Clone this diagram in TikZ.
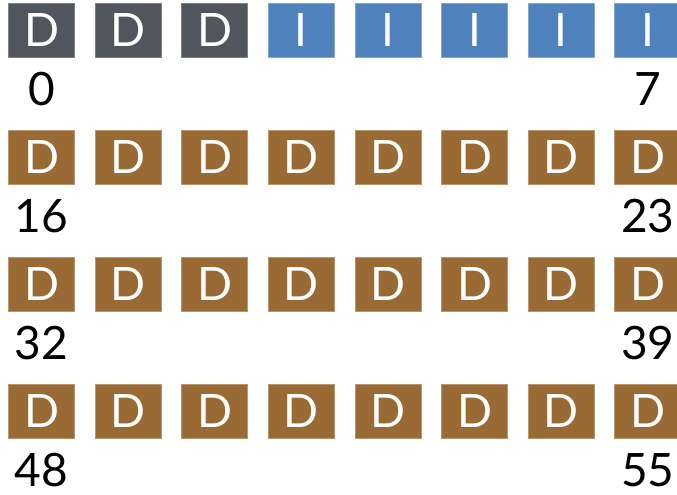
\documentclass[tikz,border=0pt]{standalone}
\usepackage{fontspec}
\setmainfont{Lato}
\usepackage{tikz}
\usetikzlibrary{positioning}
\definecolor{blkgray}{RGB}{81,86,94}
\definecolor{blkblue}{RGB}{79,129,189}
\definecolor{blkbrown}{RGB}{153,106,51}

\begin{document}
\begin{tikzpicture}[
  x=1pt, y=-1pt,
  every node/.style={font=\fontsize{46}{46}\selectfont},
  box/.style={minimum width=66pt, minimum height=54pt, inner sep=0pt,
              line width=0.6pt, text=white},
  boxDir/.style={box, fill=blkgray, draw=blkgray!75!white},
  boxInd/.style={box, fill=blkblue, draw=blkblue!70!white},
  boxDat/.style={box, fill=blkbrown, draw=blkbrown!70!white},
  num/.style={below=15pt, inner sep=0pt, text height=33pt, text depth=0pt,
              text=black},
]
\useasboundingbox (0,0) rectangle (677,495);

%% ── Row 0: directory + indirect blocks ──────────────────────────────────────
\foreach \i in {0,1,2}
  \node[boxDir] (b0-\i) at (41.5+86.6*\i, 30) {D};
\foreach \i in {3,...,7}
  \node[boxInd] (b0-\i) at (41.5+86.6*\i, 30) {I};

%% ── Rows 1-3: data blocks ───────────────────────────────────────────────────
\foreach \r in {1,2,3}
  \foreach \i in {0,...,7}
    \node[boxDat] (b\r-\i) at (41.5+86.6*\i, 30+127*\r) {D};

%% ── Block numbers ───────────────────────────────────────────────────────────
\node[num] (n0)  at (b0-0.south) {0};
\node[num] (n7)  at (b0-7.south) {7};
\node[num] (n16) at (b1-0.south) {16};
\node[num] (n23) at (b1-7.south) {23};
\node[num] (n32) at (b2-0.south) {32};
\node[num] (n39) at (b2-7.south) {39};
\node[num] (n48) at (b3-0.south) {48};
\node[num] (n55) at (b3-7.south) {55};

\end{tikzpicture}
\end{document}
